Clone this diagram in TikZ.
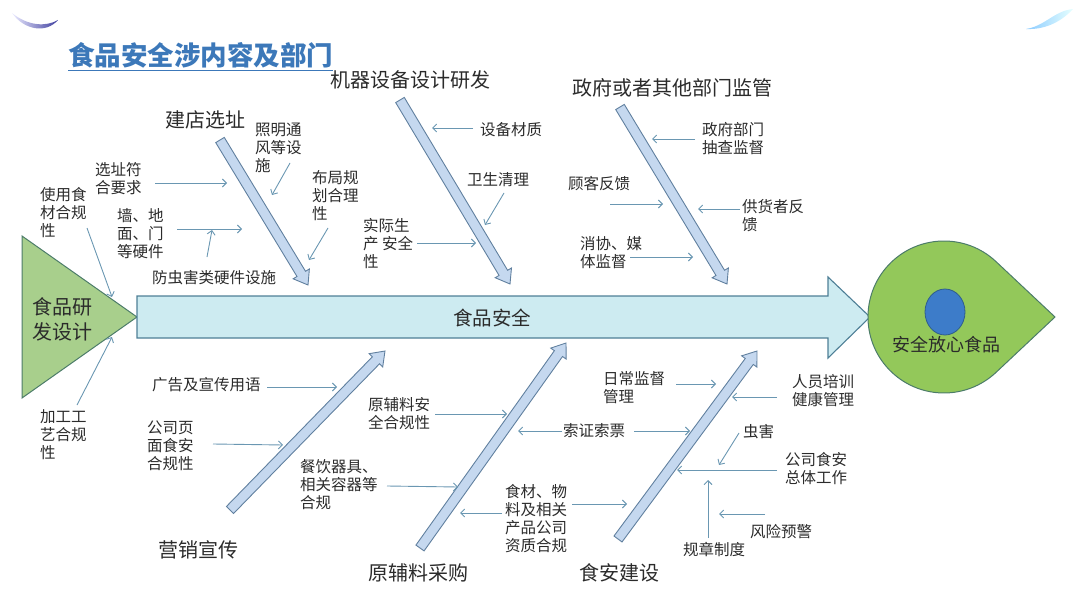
\documentclass[tikz,border=0pt]{standalone}
\usepackage{fontspec}
\setmainfont{Noto Sans CJK SC}
\usetikzlibrary{calc,arrows.meta}

\definecolor{txtgray}{HTML}{2B2B2B}
\definecolor{titleblue}{HTML}{3C78B9}
\definecolor{spinefill}{HTML}{CDEBF1}
\definecolor{spineline}{HTML}{4E7F96}
\definecolor{bonefill}{HTML}{C5D8EF}
\definecolor{boneline}{HTML}{61809F}
\definecolor{arrblue}{HTML}{6A97B2}
\definecolor{headgreen}{HTML}{A8CF8C}
\definecolor{dropgreen}{HTML}{93C85A}
\definecolor{greenline}{HTML}{4C7C69}
\definecolor{dotblue}{HTML}{3D7CC9}
\definecolor{dotline}{HTML}{2F5D8C}

% hollow block arrow from tail #1 to tip #2
\newcommand\fishbone[2]{%
  \coordinate (bh) at ($(#2)!13pt!(#1)$);
  \filldraw[bonearr] ($(#1)!5pt!90:(#2)$) -- ($(bh)!5pt!90:(#2)$) -- ($(bh)!9.5pt!90:(#2)$) -- (#2)
    -- ($(bh)!9.5pt!-90:(#2)$) -- ($(bh)!5pt!-90:(#2)$) -- ($(#1)!5pt!-90:(#2)$) -- cycle;}

\begin{document}
\begin{tikzpicture}[x=1pt,y=-1pt,
  lbl/.style={anchor=north west, inner sep=0pt, align=left, text=txtgray, font=\fontsize{15.5}{18}\selectfont},
  biglbl/.style={inner sep=0pt, text=txtgray, font=\fontsize{20}{25}\selectfont},
  thinarr/.style={draw=arrblue, line width=0.9pt, -{Straight Barb[length=4pt,width=8pt]}},
  bonearr/.style={fill=bonefill, draw=boneline, line width=0.9pt, line join=miter}]
\useasboundingbox (0,0) rectangle (1080,602);

% Slide swooshes
\shade[left color=blue!8, right color=blue!50!black!75] (12,13) .. controls (24,30) and (46,34) .. (58,20) .. controls (46,27) and (28,26) .. (12,13) -- cycle;
\shade[left color=cyan!55!blue!45, right color=cyan!10] (1026,29) .. controls (1045,26) and (1054,11) .. (1073,9) .. controls (1063,20) and (1047,30) .. (1026,29) -- cycle;

% Title
\node[anchor=base west, inner sep=0pt, text=titleblue, font=\fontsize{26.5}{30}\selectfont\bfseries] (title) at (68,66) {\underline{食品安全涉内容及部门}};

% Head, spine and goal
\filldraw[fill=headgreen, draw=greenline, line width=1pt] (22,236) -- (137,317) -- (22,398) -- cycle;
\node[biglbl, anchor=north west, align=left] (rd) at (32,297) {食品研\\发设计};
\filldraw[fill=spinefill, draw=spineline, line width=1.1pt] (137,296) -- (828,296) -- (828,277) -- (870,317) -- (828,358) -- (828,338) -- (137,338) -- cycle;
\node[biglbl, font=\fontsize{19.5}{24}\selectfont] (spine) at (492,318) {食品安全};
\filldraw[fill=dropgreen, draw=greenline, line width=1pt] (1055,317) -- (996,261.6) arc[start angle=46.8, end angle=313.2, radius=76pt] -- cycle;
\filldraw[fill=dotblue, draw=dotline, line width=0.8pt] (945,312) ellipse [x radius=20pt, y radius=23pt];
\node[biglbl, font=\fontsize{18}{22}\selectfont] (goal) at (946,345) {安全放心食品};

% Bones
\coordinate (jd-t) at (220,140); \coordinate (jd-h) at (308,285);
\coordinate (jq-t) at (400,100); \coordinate (jq-h) at (510,284);
\coordinate (zf-t) at (620,107); \coordinate (zf-h) at (727,284);
\coordinate (yx-t) at (230,510); \coordinate (yx-h) at (385,351);
\coordinate (cg-t) at (420,548); \coordinate (cg-h) at (566,343);
\coordinate (sa-t) at (618,539); \coordinate (sa-h) at (757,351);
\fishbone{jd-t}{jd-h}
\fishbone{jq-t}{jq-h}
\fishbone{zf-t}{zf-h}
\fishbone{yx-t}{yx-h}
\fishbone{cg-t}{cg-h}
\fishbone{sa-t}{sa-h}

% Bone titles
\node[biglbl] (jd) at (205,120) {建店选址};
\node[biglbl] (jq) at (410,80) {机器设备设计研发};
\node[biglbl] (zf) at (672,88) {政府或者其他部门监管};
\node[biglbl] (yx) at (198,550) {营销宣传};
\node[biglbl] (cg) at (418,573) {原辅料采购};
\node[biglbl] (sa) at (619,573) {食安建设};

% Causes, upper side
\node[lbl] (zm) at (255,123) {照明通\\风等设\\施};
\node[lbl] (xz) at (95,162) {选址符\\合要求};
\node[lbl] (bj) at (312,170) {布局规\\划合理\\性};
\node[lbl] (sy) at (40,187) {使用食\\材合规\\性};
\node[lbl] (qd) at (117,208) {墙、地\\面、门\\等硬件};
\node[lbl] (fc) at (152,270) {防虫害类硬件设施};
\node[lbl] (sb) at (480,122) {设备材质};
\node[lbl] (ws) at (467,172) {卫生清理};
\node[lbl] (sj) at (363,218) {实际生\\产 安全\\性};
\node[lbl] (zb) at (702,122) {政府部门\\抽查监督};
\node[lbl] (gk) at (568,176) {顾客反馈};
\node[lbl] (gh) at (742,199) {供货者反\\馈};
\node[lbl] (xx) at (580,236) {消协、媒\\体监督};
\node[lbl] (jg) at (40,409) {加工工\\艺合规\\性};

% Causes, lower side
\node[lbl] (gg) at (152,377) {广告及宣传用语};
\node[lbl] (gs) at (147,421) {公司页\\面食安\\合规性};
\node[lbl] (cy) at (300,459) {餐饮器具、\\相关容器等\\合规};
\node[lbl] (ya) at (368,397) {原辅料安\\全合规性};
\node[lbl] (sz) at (563,423) {索证索票};
\node[lbl] (sc) at (505,484) {食材、物\\料及相关\\产品公司\\资质合规};
\node[lbl] (rc) at (603,371) {日常监督\\管理};
\node[lbl] (ry) at (792,374) {人员培训\\健康管理};
\node[lbl] (ch) at (743,424) {虫害};
\node[lbl] (gz) at (785,452) {公司食安\\总体工作};
\node[lbl] (fx) at (750,524) {风险预警};
\node[lbl] (gd) at (683,542) {规章制度};

% Arrow end points
\coordinate (zm-a) at (290,163); \coordinate (zm-b) at (272,195);
\coordinate (xz-a) at (155,183); \coordinate (xz-b) at (227,183);
\coordinate (bj-a) at (328,228); \coordinate (bj-b) at (309,260);
\coordinate (sy-a) at (87,228);  \coordinate (sy-b) at (112,297);
\coordinate (qd-a) at (177,229); \coordinate (qd-b) at (242,229);
\coordinate (fc-a) at (207,257); \coordinate (fc-b) at (212,230);
\coordinate (sb-a) at (473,128); \coordinate (sb-b) at (432,128);
\coordinate (ws-a) at (504,193); \coordinate (ws-b) at (485,225);
\coordinate (sj-a) at (417,243); \coordinate (sj-b) at (476,243);
\coordinate (zb-a) at (695,139); \coordinate (zb-b) at (652,139);
\coordinate (gk-a) at (610,204); \coordinate (gk-b) at (663,204);
\coordinate (gh-a) at (740,209); \coordinate (gh-b) at (698,209);
\coordinate (xx-a) at (630,257); \coordinate (xx-b) at (693,257);
\coordinate (jg-a) at (77,405);  \coordinate (jg-b) at (112,337);
\coordinate (gg-a) at (267,387); \coordinate (gg-b) at (337,387);
\coordinate (gs-a) at (213,444); \coordinate (gs-b) at (283,445);
\coordinate (cy-a) at (387,486); \coordinate (cy-b) at (458,487);
\coordinate (ya-a) at (435,414); \coordinate (ya-b) at (507,414);
\coordinate (sz-a) at (562,431); \coordinate (sz-b) at (518,431);
\coordinate (sz-c) at (634,431); \coordinate (sz-d) at (690,431);
\coordinate (sc-a) at (502,513); \coordinate (sc-b) at (460,513);
\coordinate (sc-c) at (572,504); \coordinate (sc-d) at (627,504);
\coordinate (rc-a) at (676,384); \coordinate (rc-b) at (716,384);
\coordinate (ry-a) at (777,397); \coordinate (ry-b) at (732,397);
\coordinate (ch-a) at (739,433); \coordinate (ch-b) at (719,465);
\coordinate (gz-a) at (777,470); \coordinate (gz-b) at (677,470);
\coordinate (fx-a) at (765,514); \coordinate (fx-b) at (719,514);
\coordinate (gd-a) at (708,538); \coordinate (gd-b) at (708,480);

% Thin arrows
\foreach \p in {zm,xz,bj,sy,qd,fc,sb,ws,sj,zb,gk,gh,xx,jg,gg,gs,cy,ya,sz,sc,rc,ry,ch,gz,fx,gd}
  \draw[thinarr] (\p-a) -- (\p-b);
\draw[thinarr] (sz-c) -- (sz-d);
\draw[thinarr] (sc-c) -- (sc-d);
\end{tikzpicture}
\end{document}
